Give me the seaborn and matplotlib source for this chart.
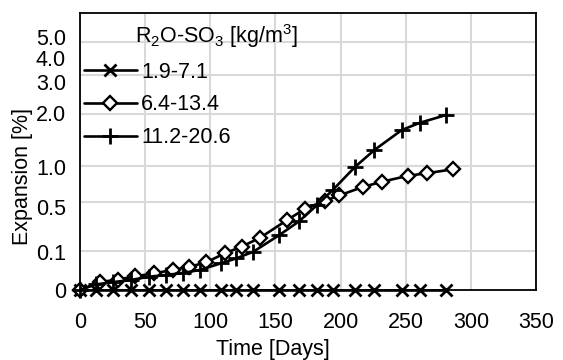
import numpy as np
import pandas as pd
import matplotlib
matplotlib.use("Agg")
import matplotlib.pyplot as plt
import seaborn as sns

# measured expansion vs. time, three alkali/sulfate levels
days_low = [0, 12, 25, 39, 53, 66, 79, 92, 108, 120, 133, 153, 168, 182, 194, 211, 226, 247, 261, 281]
exp_low = [0, 0, 0, 0, 0, 0, 0, 0, 0, 0, 0, 0, 0, 0, 0, 0, 0, 0, 0, 0]

days_mid = [0, 15, 29, 42, 57, 71, 84, 97, 111, 124, 138, 159, 173, 188, 199, 217, 232, 252, 266, 286]
exp_mid = [0.0, 0.004, 0.007, 0.012, 0.018, 0.026, 0.035, 0.05, 0.087, 0.122, 0.176,
           0.318, 0.43, 0.517, 0.58, 0.689, 0.762, 0.848, 0.884, 0.946]

days_high = [0, 12, 25, 39, 53, 66, 79, 92, 108, 120, 133, 153, 168, 182, 194, 211, 226, 247, 261, 281]
exp_high = [0.0, 0.002, 0.004, 0.0065, 0.0115, 0.0146, 0.019, 0.026, 0.046, 0.065, 0.095,
            0.196, 0.305, 0.469, 0.649, 0.982, 1.273, 1.662, 1.817, 1.988]

series_labels = ["1.9-7.1", "6.4-13.4", "11.2-20.6"]
grid_values = [0.1, 0.5, 1, 2, 3, 4]
ytick_text = ["0", "0.1", "0.5", "1.0", "2.0", "3.0", "4.0", "5.0"]
xticks = [0, 50, 100, 150, 200, 250, 300, 350]

# y labels sit where the original's text boxes were (not exactly on the grid)
ytick_pos = [0, 0.095, 0.45, 0.98, 2.03, 2.81, 3.5, 4.16]

sns.set_style("white")
plt.rcParams["font.family"] = ["Liberation Sans", "DejaVu Sans"]
plt.rcParams["mathtext.default"] = "regular"
plt.rcParams["text.color"] = "black"
plt.rcParams["axes.labelcolor"] = "black"
plt.rcParams["xtick.color"] = "black"
plt.rcParams["ytick.color"] = "black"
FS = 15.5

fig = plt.figure(figsize=(5.63, 3.6), dpi=100)
ax = fig.add_axes([80 / 563, 70 / 360, 456 / 563, 277.5 / 360])
ax.set_yscale("function", functions=(lambda y: np.sqrt(np.clip(y, 0, None)), np.square))

styles = [
    dict(marker="x", markersize=8.5, markeredgewidth=2),
    dict(marker="D", markersize=7, markeredgewidth=1.7, markerfacecolor="white"),
    dict(marker="+", markersize=12, markeredgewidth=2),
]
data = [(days_low, exp_low), (days_mid, exp_mid), (days_high, exp_high)]
for (d, e), lab, st in zip(data, series_labels, styles):
    df = pd.DataFrame({"day": d, "exp": e})
    sns.lineplot(data=df, x="day", y="exp", ax=ax, color="black", linewidth=1.9,
                 markeredgecolor="black", label=lab, estimator=None, sort=False,
                 clip_on=False, zorder=3, **st)

ax.set_xlim(0, 350)
ax.set_ylim(0, 5)
ax.set_xticks(xticks)
ax.set_xticklabels([str(t) for t in xticks], fontsize=FS)
ax.set_yticks(ytick_pos)
ax.set_yticklabels(ytick_text, fontsize=FS)
ax.set_yticks(grid_values, minor=True)
ax.tick_params(axis="both", which="both", length=0)
ax.tick_params(axis="x", pad=16)
ax.tick_params(axis="y", pad=10)

ax.grid(False, which="major", axis="y")
ax.grid(True, which="minor", axis="y", color="#d9d9d9", linewidth=1.5)
ax.grid(True, which="major", axis="x", color="#d9d9d9", linewidth=1.5)
for s in ax.spines.values():
    s.set_color("black")
    s.set_linewidth(1.3)

ax.set_xlabel("Time [Days]", fontsize=FS)
ax.set_ylabel("Expansion [%]", fontsize=FS)
ax.xaxis.set_label_coords(0.423, -0.175)
ax.yaxis.set_label_coords(-0.102, 0.41)

ax.legend(loc="upper left", bbox_to_anchor=(0.009, 0.823), frameon=False, fontsize=FS,
          borderpad=0, borderaxespad=0, handlelength=2.45, handletextpad=0.2,
          labelspacing=0.55)
ax.text(0.12, 0.915, r"R$_2$O-SO$_3$ [kg/m$^3$]", transform=ax.transAxes,
        fontsize=FS, ha="left", va="center")

fig.savefig("out.png", dpi=100)
